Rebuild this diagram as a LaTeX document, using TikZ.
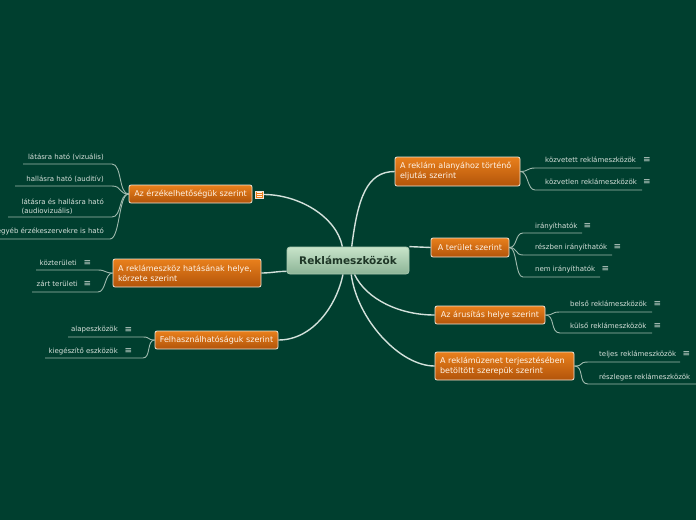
\documentclass[tikz,border=0pt]{standalone}
\usepackage{fontspec}
\setmainfont{DejaVu Sans}
\definecolor{bgc}{HTML}{003F2F}
\definecolor{otop}{HTML}{E9801C}
\definecolor{obot}{HTML}{B2540A}
\definecolor{oborder}{HTML}{F0E4D6}
\definecolor{otext}{HTML}{FFF4E8}
\definecolor{ctop}{HTML}{C8E4CA}
\definecolor{cbot}{HTML}{8CB496}
\definecolor{cborder}{HTML}{A8C8B0}
\definecolor{ctext}{HTML}{1E3626}
\definecolor{leaftext}{HTML}{D6E0DA}
\definecolor{linkc}{HTML}{9FBAAE}
\definecolor{trunkc}{HTML}{D4E2DC}
\pgfdeclarelayer{bg}
\pgfdeclarelayer{links}
\pgfsetlayers{bg,links,main}
\tikzset{
  mainbox/.style={draw=oborder, line width=0.8pt, rounded corners=2pt, top color=otop, bottom color=obot, text=otext, font=\fontsize{8}{10}\selectfont, inner sep=0pt, minimum height=18pt},
  centerbox/.style={draw=cborder, line width=0.8pt, rounded corners=3pt, top color=ctop, bottom color=cbot, text=ctext, font=\bfseries\fontsize{10.5}{12}\selectfont, inner sep=0pt},
  leaf/.style={text=leaftext, font=\fontsize{7}{9}\selectfont, inner sep=0pt},
  noteicon/.style={text=leaftext, font=\fontsize{9}{9}\selectfont, inner sep=0pt},
  link/.style={draw=linkc, line width=0.9pt},
  trunk/.style={draw=trunkc, line width=1.4pt}
}
\begin{document}
\begin{tikzpicture}[x=1pt,y=-1pt]
\begin{pgfonlayer}{bg}
\fill[bgc] (0,0) rectangle (696,520);
\end{pgfonlayer}
\useasboundingbox (0,0) rectangle (696,520);

% central
\node[centerbox, minimum width=122pt, minimum height=27pt] (c) at (348,260.5) {Reklámeszközök};

% main nodes
\node[mainbox, minimum width=125pt, minimum height=29pt, text width=115pt, align=left] (n1) at (457.5,171.5) {A reklám alanyához történő\\eljutás szerint};
\node[mainbox, minimum width=78pt, minimum height=19pt] (n2) at (470,247.5) {A terület szerint};
\node[mainbox, minimum width=110pt] (n3) at (490,315) {Az árusítás helye szerint};
\node[mainbox, minimum width=139pt, minimum height=28pt, text width=129pt, align=left] (n4) at (504.5,366) {A reklámüzenet terjesztésében\\betöltött szerepük szerint};
\node[mainbox, minimum width=123pt] (n5) at (190.5,194) {Az érzékelhetőségük szerint};
\node[draw=oborder, line width=0.5pt, fill=otop, minimum width=8pt, minimum height=7.5pt, inner sep=0pt,
  path picture={\draw[otext, line width=0.8pt] ([xshift=1.8pt,yshift=-1.8pt]path picture bounding box.north west) -- ([xshift=-1.8pt,yshift=-1.8pt]path picture bounding box.north east)
    ([xshift=1.8pt]path picture bounding box.west) -- ([xshift=-1.8pt]path picture bounding box.east)
    ([xshift=1.8pt,yshift=1.8pt]path picture bounding box.south west) -- ([xshift=-1.8pt,yshift=1.8pt]path picture bounding box.south east);}] (n5i) at (259.5,194.5) {};
\node[mainbox, minimum width=148pt, minimum height=28pt, text width=138pt, align=left] (n6) at (187,273) {A reklámeszköz hatásának helye,\\körzete szerint};
\node[mainbox, minimum width=123pt] (n7) at (216.5,340) {Felhasználhatóságuk szerint};

% leaves n1
\node[leaf, anchor=west] (l1a) at (545,160) {közvetett reklámeszközök};
\node[noteicon] (i1a) at (647,160) {≡};
\node[leaf, anchor=west] (l1b) at (545,182) {közvetlen reklámeszközök};
\node[noteicon] (i1b) at (647,182) {≡};
\coordinate (u1a) at (535,168); \coordinate (e1a) at (641,168);
\coordinate (u1b) at (535,190); \coordinate (e1b) at (642,190);

% leaves n2
\node[leaf, anchor=west] (l2a) at (535,226) {irányíthatók};
\node[noteicon] (i2a) at (587.5,226) {≡};
\node[leaf, anchor=west] (l2b) at (535,247.5) {részben irányíthatók};
\node[noteicon] (i2b) at (617.5,247.5) {≡};
\node[leaf, anchor=west] (l2c) at (535,269) {nem irányíthatók};
\node[noteicon] (i2c) at (605.5,269) {≡};
\coordinate (u2a) at (523,233); \coordinate (e2a) at (582,233);
\coordinate (u2b) at (523,255); \coordinate (e2b) at (612,255);
\coordinate (u2c) at (523,277); \coordinate (e2c) at (600,277);

% leaves n3
\node[leaf, anchor=west] (l3a) at (570,304) {belső reklámeszközök};
\node[noteicon] (i3a) at (657.5,304) {≡};
\node[leaf, anchor=west] (l3b) at (570,326) {külső reklámeszközök};
\node[noteicon] (i3b) at (657.5,326) {≡};
\coordinate (u3a) at (560,312); \coordinate (e3a) at (652,312);
\coordinate (u3b) at (560,333); \coordinate (e3b) at (652,333);

% leaves n4
\node[leaf, anchor=west] (l4a) at (599,354) {teljes reklámeszközök};
\node[noteicon] (i4a) at (686.5,354) {≡};
\node[leaf, anchor=west] (l4b) at (599,377) {részleges reklámeszközök};
\coordinate (u4a) at (588,362); \coordinate (e4a) at (680,362);
\coordinate (u4b) at (588,384); \coordinate (e4b) at (696,384);

% leaves n5
\node[leaf, anchor=east] (l5a) at (104,157) {látásra ható (vizuális)};
\node[leaf, anchor=east] (l5b) at (104,179) {hallásra ható (auditív)};
\node[leaf, anchor=east, align=left] (l5c) at (104,206.5) {látásra és hallásra ható\\(audiovizuális)};
\node[leaf, anchor=east] (l5d) at (104,231) {egyéb érzékeszervekre is ható};
\coordinate (u5a) at (112,164); \coordinate (e5a) at (23,164);
\coordinate (u5b) at (112,186); \coordinate (e5b) at (15,186);
\coordinate (u5c) at (112,217); \coordinate (e5c) at (8,217);
\coordinate (u5d) at (110,239); \coordinate (e5d) at (0,239);

% leaves n6
\node[leaf, anchor=east] (l6a) at (77,263) {közterületi};
\node[noteicon] (i6a) at (87.5,263) {≡};
\node[leaf, anchor=east] (l6b) at (78,284) {zárt területi};
\node[noteicon] (i6b) at (87.5,284) {≡};
\coordinate (u6a) at (98,270); \coordinate (e6a) at (36,270);
\coordinate (u6b) at (98,292); \coordinate (e6b) at (32,292);

% leaves n7
\node[leaf, anchor=east] (l7a) at (118,330) {alapeszközök};
\node[noteicon] (i7a) at (128.5,330) {≡};
\node[leaf, anchor=east] (l7b) at (118,351) {kiegészítő eszközök};
\node[noteicon] (i7b) at (128.5,351) {≡};
\coordinate (u7a) at (143,337); \coordinate (e7a) at (68,337);
\coordinate (u7b) at (143,358); \coordinate (e7b) at (45,358);

\begin{pgfonlayer}{links}
% trunk connectors
\draw[trunk] (c.75) .. controls +(6,-48) and +(-28,0) .. (n1.west);
\draw[trunk] (c.north east) .. controls +(10,0) and +(-10,0) .. (n2.west);
\draw[trunk] (c.295) .. controls +(12,25) and +(-35,0) .. (n3.west);
\draw[trunk] (c.283) .. controls +(6,45) and +(-35,0) .. (n4.west);
\draw[trunk] (c.112) .. controls +(-6,-30) and +(35,0) .. (n5i.east);
\draw[trunk] (c.190) .. controls +(-10,0) and +(10,0) .. (n6.east);
\draw[trunk] (c.250) .. controls +(-6,30) and +(35,0) .. (n7.east);

% leaf connectors
\draw[link] (n1.east) .. controls +(8,0) and +(-8,0) .. (u1a) -- (e1a);
\draw[link] (n1.east) .. controls +(8,0) and +(-8,0) .. (u1b) -- (e1b);
\draw[link] (n2.east) .. controls +(8,0) and +(-8,0) .. (u2a) -- (e2a);
\draw[link] (n2.east) .. controls +(8,0) and +(-8,0) .. (u2b) -- (e2b);
\draw[link] (n2.east) .. controls +(8,0) and +(-8,0) .. (u2c) -- (e2c);
\draw[link] (n3.east) .. controls +(10,0) and +(-10,0) .. (u3a) -- (e3a);
\draw[link] (n3.east) .. controls +(10,0) and +(-10,0) .. (u3b) -- (e3b);
\draw[link] (n4.east) .. controls +(10,0) and +(-10,0) .. (u4a) -- (e4a);
\draw[link] (n4.east) .. controls +(10,0) and +(-10,0) .. (u4b) -- (e4b);
\draw[link] (n5.west) .. controls +(-10,0) and +(10,0) .. (u5a) -- (e5a);
\draw[link] (n5.west) .. controls +(-10,0) and +(10,0) .. (u5b) -- (e5b);
\draw[link] (n5.west) .. controls +(-10,0) and +(10,0) .. (u5c) -- (e5c);
\draw[link] (n5.west) .. controls +(-10,0) and +(10,0) .. (u5d) -- (e5d);
\draw[link] (n6.west) .. controls +(-8,0) and +(8,0) .. (u6a) -- (e6a);
\draw[link] (n6.west) .. controls +(-8,0) and +(8,0) .. (u6b) -- (e6b);
\draw[link] (n7.west) .. controls +(-8,0) and +(8,0) .. (u7a) -- (e7a);
\draw[link] (n7.west) .. controls +(-8,0) and +(8,0) .. (u7b) -- (e7b);
\end{pgfonlayer}
\end{tikzpicture}
\end{document}
